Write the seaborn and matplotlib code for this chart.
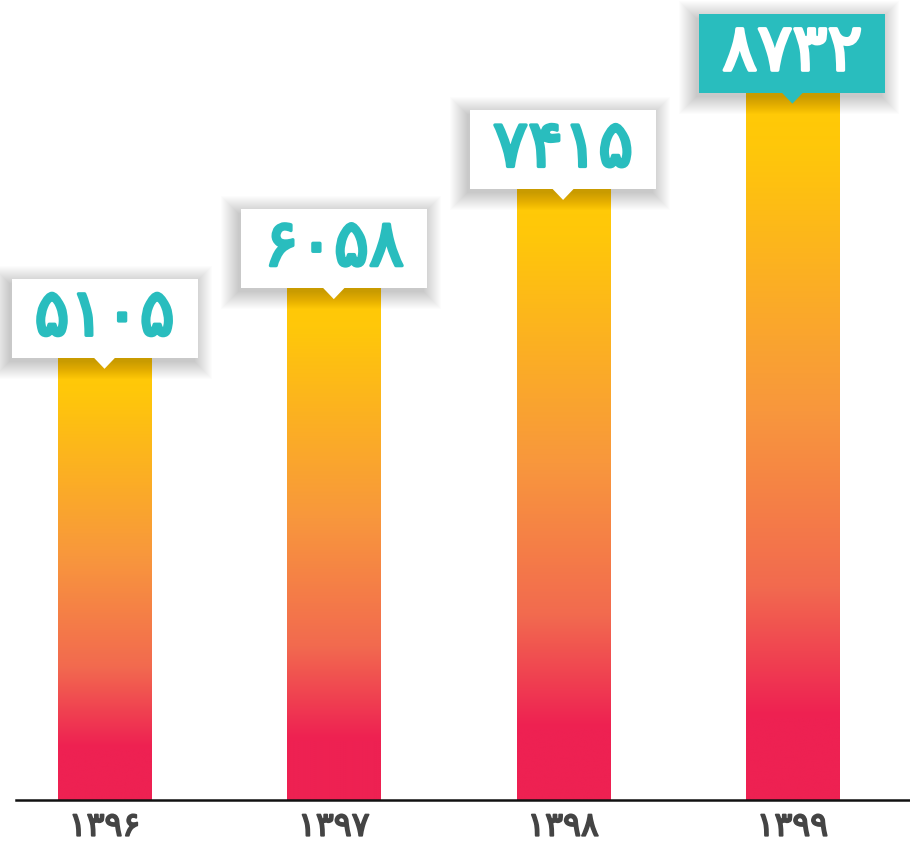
import numpy as np
import pandas as pd
import matplotlib
matplotlib.use("Agg")
import matplotlib.pyplot as plt
import matplotlib.patheffects as pe
import seaborn as sns
from matplotlib.patches import Rectangle, Polygon
from matplotlib.transforms import IdentityTransform
from matplotlib.colors import LinearSegmentedColormap

# ---- data ----
years = ["1396", "1397", "1398", "1399"]
values = [5105, 6058, 7415, 8732]
highlight = [False, False, False, True]

FA = str.maketrans("0123456789", "۰۱۲۳۴۵۶۷۸۹")

sns.set_theme(style="white")
plt.rcParams['font.family'] = ['DejaVu Sans']

W, H = 910, 848
fig = plt.figure(figsize=(W / 100, H / 100), dpi=100)
fig.patch.set_facecolor("white")
ax = fig.add_axes([16 / W, 48 / H, 1 - 16 / W, 800 / H])

df = pd.DataFrame({"year": [y.translate(FA) for y in years], "value": values})
sns.barplot(data=df, x="year", y="value", ax=ax, width=0.406, color="#EE2152",
            saturation=1, errorbar=None, zorder=2)

BASE = -945
ax.set_ylim(BASE, 10000)
ax.set_xlim(-0.386, 3.513)

grad_cmap = LinearSegmentedColormap.from_list(
    "g", [(0.0, "#FFCB05"), (0.08, "#FFC70A"), (0.45, "#F8973D"),
          (0.7, "#F26A4F"), (0.88, "#EE2152"), (1.0, "#EE2152")])
grad = np.linspace(0, 1, 256).reshape(-1, 1)

for p in ax.patches:
    h = p.get_height()
    p.set_y(BASE)
    p.set_height(h - BASE)
    x0 = p.get_x()
    x1 = x0 + p.get_width()
    im = ax.imshow(grad, cmap=grad_cmap, extent=(x0, x1, BASE, h), aspect="auto",
                   origin="upper", zorder=3, interpolation="bicubic")
    im.set_clip_path(p)

for s in ["top", "left", "right"]:
    ax.spines[s].set_visible(False)
ax.spines["bottom"].set_color("#111111")
ax.spines["bottom"].set_linewidth(1.8)
ax.spines["bottom"].set_zorder(5)
ax.set_yticks([])
ax.set_xlabel("")
ax.set_ylabel("")
ax.tick_params(axis="x", length=0, pad=7, labelsize=24, labelcolor="#444444")
for t in ax.get_xticklabels():
    t.set_fontweight("normal")
    t.set_path_effects([pe.withStroke(linewidth=1.3, foreground="#444444")])

# ---- label boxes ----
ident = IdentityTransform()
BW, BH = 186, 79
for i, (v, hl) in enumerate(zip(values, highlight)):
    cx, top = ax.transData.transform((i, v))
    bx0, by0 = cx - BW / 2, top
    # soft shadow
    for k in range(18):
        e = k * 1.0
        ax.add_patch(Rectangle((bx0 - 3 - e, by0 - 4 - e), BW + 2 * e, BH + 2 * e,
                               transform=ident, facecolor="black", edgecolor="none",
                               alpha=0.012, zorder=6, clip_on=False))
    fc = "#29BDBE" if hl else "white"
    tc = "white" if hl else "#29BDBE"
    ax.add_patch(Rectangle((bx0, by0), BW, BH, transform=ident, facecolor=fc,
                           edgecolor="none", zorder=7, clip_on=False))
    ax.add_patch(Polygon([(cx - 11, by0 + 0.5), (cx + 11, by0 + 0.5), (cx, by0 - 11)],
                         closed=True, transform=ident, facecolor=fc, edgecolor="none",
                         zorder=7, clip_on=False))
    ax.text(cx, by0 + BH / 2 + 1, str(v).translate(FA), transform=ident, ha="center",
            va="center", fontsize=47, fontweight="normal", color=tc, zorder=8,
            path_effects=[pe.withStroke(linewidth=2.4, foreground=tc)])

fig.savefig("out.png", dpi=100, facecolor="white")
